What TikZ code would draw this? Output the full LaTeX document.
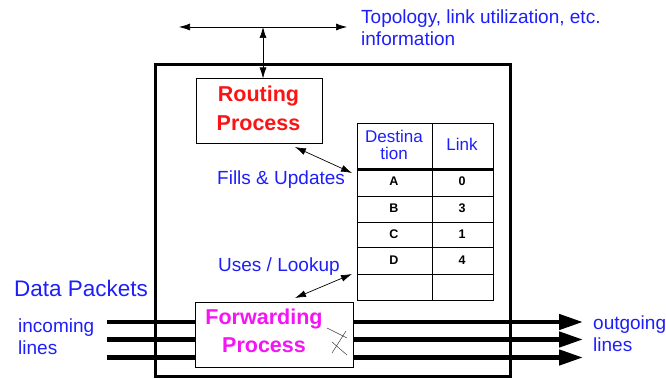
\documentclass[tikz,border=0pt]{standalone}
\usepackage{fontspec}
\setmainfont{Liberation Sans}
\usetikzlibrary{arrows.meta}
\definecolor{lblblue}{RGB}{30,30,250}
\definecolor{rtred}{RGB}{250,20,20}
\definecolor{fwpink}{RGB}{245,20,245}
\tikzset{
  lbl/.style={text=lblblue, font=\fontsize{19}{22}\selectfont, inner sep=0pt, align=left},
  procbox/.style={draw, fill=white, line width=1pt, inner sep=0pt},
  proctext/.style={inner sep=0pt, font=\bfseries\fontsize{21.5}{28.5}\selectfont, align=center},
  thin2/.style={line width=0.7pt, {Latex[length=11pt,width=7pt]}-{Latex[length=11pt,width=7pt]}},
  dataline/.style={line width=4.5pt, -{Triangle[length=24pt,width=15pt]}},
  cell/.style={inner sep=0pt, font=\bfseries\fontsize{12.5}{13}\selectfont},
  head/.style={inner sep=0pt, text=lblblue, font=\fontsize{17}{17}\selectfont, align=center},
}
\begin{document}
\begin{tikzpicture}[x=1pt,y=-1pt]
\useasboundingbox (0,0) rectangle (666,379);
% router enclosure
\draw[line width=3pt] (155,65) rectangle (510,376);
% routing process
\node[procbox, minimum width=126pt, minimum height=65pt] (rp) at (259,111.5) {};
\node[proctext, text=rtred] (rpt) at (258.5,108.5) {Routing\\Process};
% external information exchange
\coordinate (tl) at (179,27);
\coordinate (tr) at (347,27);
\coordinate (tm) at (263,27);
\draw[thin2] (tl) -- (tr);
\draw[thin2] (tm) -- (rp.north -| tm);
\node[lbl, anchor=west] (topo) at (361,28) {Topology, link utilization, etc.\\information};
% routing table
\node[draw, line width=1pt, minimum width=136pt, minimum height=176pt, inner sep=0pt] (tbl) at (425,212) {};
\draw[line width=1pt] (432,124) -- (432,300);
\draw[line width=3pt] (357,170) -- (493,170);
\foreach \yy in {197,222.5,248,274} \draw[line width=1pt] (357,\yy) -- (493,\yy);
\node[head] (hd) at (394,145) {Destina\\tion};
\node[head] (hl) at (462,144.5) {Link};
\node[cell] (ca) at (394,181.5) {A};  \node[cell] (la) at (462,181.5) {0};
\node[cell] (cb) at (394,208.5) {B};  \node[cell] (lb) at (462,208.5) {3};
\node[cell] (cc) at (394,234) {C};    \node[cell] (lc) at (462,234) {1};
\node[cell] (cd) at (394,260) {D};    \node[cell] (ld) at (462,260) {4};
% data lines through the forwarding process
\foreach \yy/\nm in {322/a,339.5/b,357.5/c}{
  \coordinate (in\nm) at (107,\yy);
  \coordinate (out\nm) at (583,\yy);
  \draw[dataline] (in\nm) -- (out\nm);
}
\node[procbox, minimum width=158pt, minimum height=65pt] (fp) at (274,334.5) {};
\node[proctext, text=fwpink] (fpt) at (264,330.6) {Forwarding\\Process};
% switching symbol
\draw[line width=0.5pt, black!75] (327,328) -- (347,338);
\draw[line width=0.5pt, black!75] (346,331) -- (332,353);
\draw[line width=0.5pt, black!75] (332,342) -- (347,355);
% table access
\coordinate (rpa) at (295,147);
\coordinate (tba) at (352,173);
\draw[thin2] (rpa) -- (tba);
\node[lbl, anchor=base west] (fills) at (217,185) {Fills \& Updates};
\coordinate (fpa) at (295,298);
\coordinate (tbb) at (352,274);
\draw[thin2] (fpa) -- (tbb);
\node[lbl, anchor=base west] (uses) at (218,272) {Uses / Lookup};
% line labels
\node[lbl, anchor=base west, font=\fontsize{22.5}{24}\selectfont] (dp) at (14,296) {Data Packets};
\node[lbl, anchor=west] (inc) at (18,337) {incoming\\lines};
\node[lbl, anchor=west] (outg) at (593,334) {outgoing\\lines};
\end{tikzpicture}
\end{document}
